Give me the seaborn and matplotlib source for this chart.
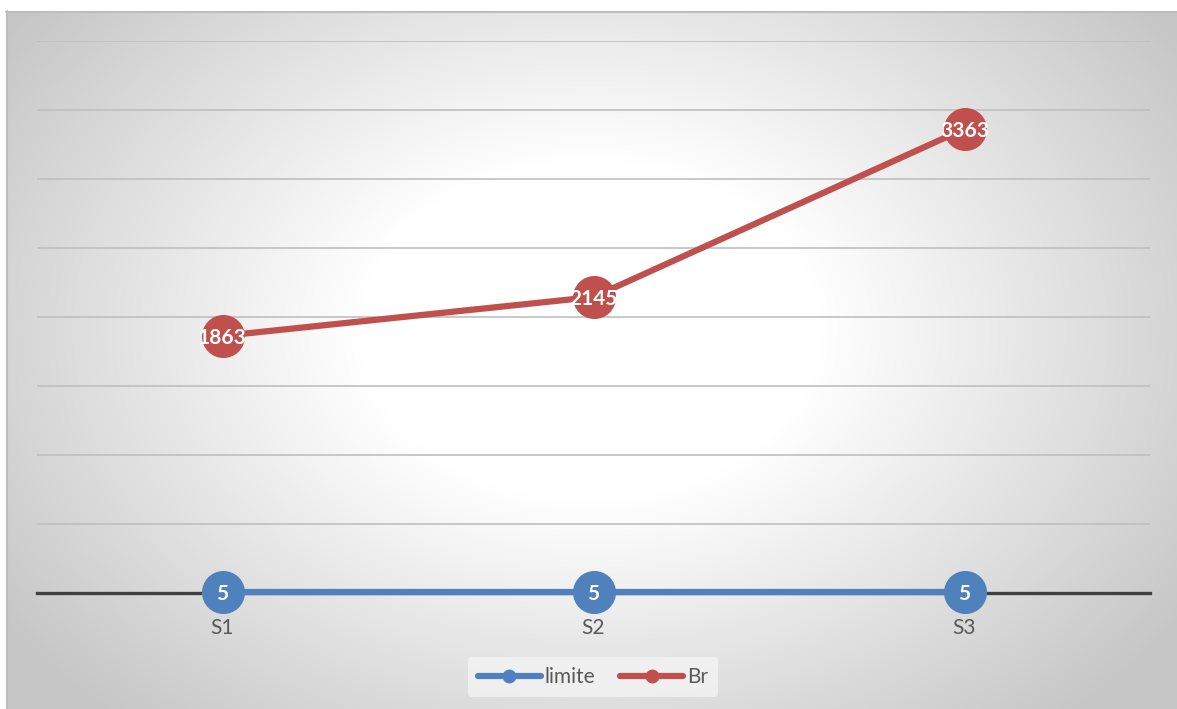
import numpy as np
import pandas as pd
import matplotlib
matplotlib.use("Agg")
import matplotlib.pyplot as plt
from matplotlib.lines import Line2D
import seaborn as sns

categories = ["S1", "S2", "S3"]
limite = [5, 5, 5]
br = [1863, 2145, 3363]
series_names = ["limite", "Br"]
colors = {"limite": "#4F81BD", "Br": "#C0504D"}

df = pd.DataFrame({
    "cat": categories * 2,
    "val": limite + br,
    "series": [series_names[0]] * 3 + [series_names[1]] * 3,
})

sns.set_theme(style="white")
plt.rcParams["font.family"] = ["Lato", "DejaVu Sans"]

W, H = 1177, 709
fig = plt.figure(figsize=(W / 100, H / 100), dpi=100)
fig.patch.set_facecolor("white")

# background radial gradient
bg = fig.add_axes([0, 0, 1, 1], zorder=-5)
bg.set_xlim(0, W)
bg.set_ylim(H, 0)
bg.axis("off")
yy, xx = np.mgrid[0:H, 0:W]
cx, cy = 590, 330
d = np.sqrt(((xx - cx) / 640.0) ** 2 + ((yy - cy) / 470.0) ** 2)
t = np.clip((d - 0.36) / (1.1 - 0.36), 0, 1)
g = 1.0 - 0.22 * t
img = np.dstack([g, g, g])
x0, y0 = 6, 11
bg.imshow(img[y0:, x0:], extent=(x0, W, H, y0), aspect="auto", interpolation="bilinear")
bg.plot([x0, W], [y0 + 0.5, y0 + 0.5], color="#bdbdbd", lw=1.5)
bg.plot([x0 + 0.5, x0 + 0.5], [y0, H], color="#bdbdbd", lw=1.5)

# main axes
left, right = 37 / W, 1150 / W
bottom, top = (H - 593) / H, (H - 41) / H
ax = fig.add_axes([left, bottom, right - left, top - bottom])
ax.set_facecolor("none")

sns.lineplot(data=df, x="cat", y="val", hue="series", palette=colors,
             marker="o", markersize=31, markeredgewidth=0, linewidth=4.5,
             ax=ax, legend=False, sort=False)
for ln in ax.get_lines():
    ln.set_clip_on(False)
    ln.set_zorder(4)

ax.set_xlim(-0.5, 2.5)
ax.set_ylim(0, 4000)
ax.set_yticks(np.arange(0, 4001, 500))
ax.yaxis.grid(True, color="#bfbfbf", lw=1.2)
ax.set_axisbelow(True)
ax.tick_params(axis="y", left=False, labelleft=False)
ax.tick_params(axis="x", length=0, pad=18, labelsize=15, labelcolor="#595959")
ax.set_xlabel("")
ax.set_ylabel("")
for s in ["top", "left", "right"]:
    ax.spines[s].set_visible(False)
ax.spines["bottom"].set_color("#404040")
ax.spines["bottom"].set_linewidth(2.4)
ax.spines["bottom"].set_zorder(3)

for i, c in enumerate(categories):
    ax.text(i, limite[i], str(limite[i]), ha="center", va="center_baseline",
            color="white", fontsize=15, fontweight="bold", zorder=6, clip_on=False)
    ax.text(i, br[i], str(br[i]), ha="center", va="center_baseline",
            color="white", fontsize=15, fontweight="bold", zorder=6, clip_on=False)

handles = [Line2D([], [], color=colors[n], lw=4.5, marker="o", markersize=9,
                  solid_capstyle="round") for n in series_names]
leg = fig.legend(handles, series_names, loc="center", bbox_to_anchor=(593 / W, (H - 677) / H),
                 ncol=2, frameon=True, fontsize=15, handlelength=3.0, handletextpad=0.2,
                 columnspacing=1.2, borderpad=0.5)
leg.get_frame().set_facecolor("#f6f6f6")
leg.get_frame().set_edgecolor("none")
leg.get_frame().set_alpha(0.7)
for txt in leg.get_texts():
    txt.set_color("#595959")

fig.savefig("out.png", dpi=100)
